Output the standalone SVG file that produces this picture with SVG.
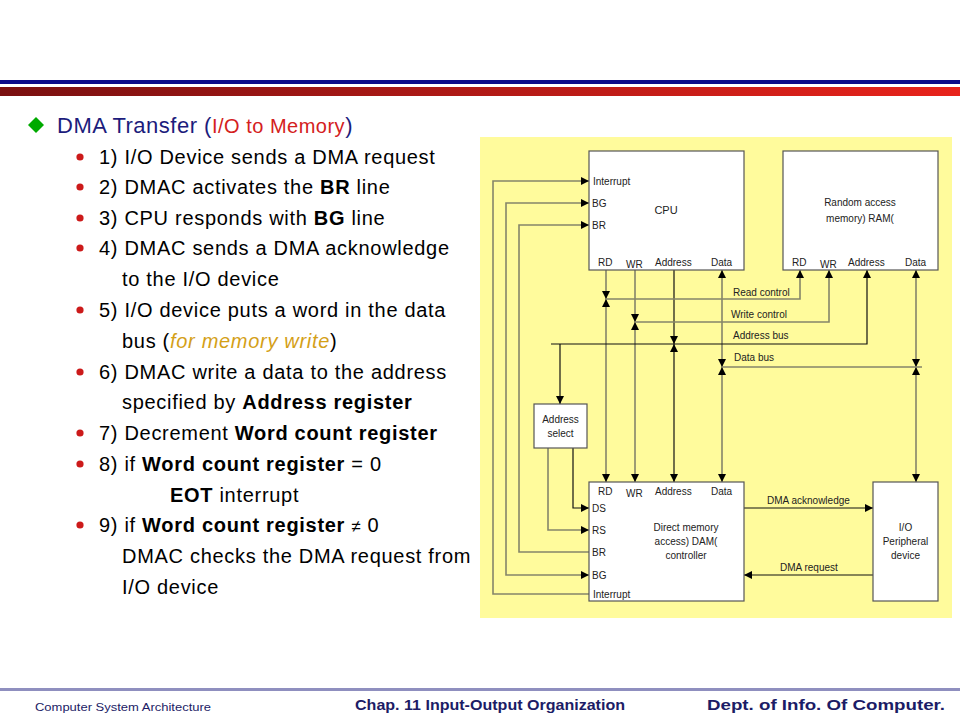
<svg xmlns="http://www.w3.org/2000/svg" width="960" height="720" viewBox="0 0 960 720">
<defs>
  <linearGradient id="redbar" x1="0" x2="1" y1="0" y2="0">
    <stop offset="0" stop-color="#7a1010"/>
    <stop offset="1" stop-color="#e8231b"/>
  </linearGradient>
  <marker id="ah" viewBox="0 0 10 10" refX="10" refY="5" markerWidth="8" markerHeight="8" markerUnits="userSpaceOnUse" orient="auto-start-reverse">
    <path d="M0,0 L10,5 L0,10 z" fill="#000"/>
  </marker>
</defs>
<style>
  .t{font-family:"Liberation Sans",Arial,sans-serif}
  .body{font-size:20px;fill:#000;letter-spacing:0.7px}
  .b{font-weight:bold}
  .lbl{font-size:10px;fill:#222}
  .box{fill:#fff;stroke:#555;stroke-width:1.2}
  .g{fill:none;stroke:#85856a;stroke-width:1.6}
  .k{fill:none;stroke:#111;stroke-width:1.2}
  .dot{fill:#cc1a1a}
  .foot{font-weight:bold;fill:#1c1c66;font-size:14px}
</style>

<rect width="960" height="720" fill="#fff"/>

<!-- header bars -->
<rect x="0" y="80" width="960" height="4" fill="#0c0c8a"/>
<rect x="0" y="87" width="960" height="9" fill="url(#redbar)"/>

<!-- title -->
<g id="title">
  <polygon points="36,117 44,125 36,133 28,125" fill="#00aa00"/>
  <text class="t" x="57" y="133" font-size="22" fill="#1c1c7c" letter-spacing="0.5">DMA Transfer (<tspan fill="#d42020" font-size="20">I/O to Memory</tspan>)</text>
</g>

<!-- bullet list -->
<g id="steps" class="t body">
  <circle class="dot" cx="80" cy="157" r="3.6"/>
  <text x="99" y="164">1) I/O Device sends a DMA request</text>
  <circle class="dot" cx="80" cy="187" r="3.6"/>
  <text x="99" y="194">2) DMAC activates the <tspan class="b">BR</tspan> line</text>
  <circle class="dot" cx="80" cy="218" r="3.6"/>
  <text x="99" y="225">3) CPU responds with <tspan class="b">BG</tspan> line</text>
  <circle class="dot" cx="80" cy="248" r="3.6"/>
  <text x="99" y="255">4) DMAC sends a DMA acknowledge</text>
  <text x="122" y="286">to the I/O device</text>
  <circle class="dot" cx="80" cy="310" r="3.6"/>
  <text x="99" y="317">5) I/O device puts a word in the data</text>
  <text x="122" y="348">bus (<tspan font-style="italic" fill="#d4a017">for memory write</tspan>)</text>
  <circle class="dot" cx="80" cy="372" r="3.6"/>
  <text x="99" y="379">6) DMAC write a data to the address</text>
  <text x="122" y="409">specified by <tspan class="b">Address register</tspan></text>
  <circle class="dot" cx="80" cy="433" r="3.6"/>
  <text x="99" y="440">7) Decrement <tspan class="b">Word count register</tspan></text>
  <circle class="dot" cx="80" cy="464" r="3.6"/>
  <text x="99" y="471">8) if <tspan class="b">Word count register</tspan> = 0</text>
  <text x="170" y="502"><tspan class="b">EOT</tspan> interrupt</text>
  <circle class="dot" cx="80" cy="525" r="3.6"/>
  <text x="99" y="532">9) if <tspan class="b">Word count register</tspan> <tspan font-size="17">≠</tspan> 0</text>
  <text x="122" y="563">DMAC checks the DMA request from</text>
  <text x="122" y="594">I/O device</text>
</g>

<!-- diagram background -->
<rect x="480" y="137" width="472" height="481" fill="#fffb9c"/>

<!-- connectors -->
<g id="connectors">
  <!-- CPU RD -->
  <path class="g" d="M606,270 V299" marker-end="url(#ah)"/>
  <path class="g" d="M606,299 V482" marker-start="url(#ah)" marker-end="url(#ah)"/>
  <!-- CPU WR -->
  <path class="g" d="M635,270 V322" marker-end="url(#ah)"/>
  <path class="g" d="M635,322 V482" marker-start="url(#ah)" marker-end="url(#ah)"/>
  <!-- CPU Address -->
  <path class="k" d="M674,270 V344" marker-end="url(#ah)"/>
  <path class="k" d="M674,344 V482" marker-start="url(#ah)" marker-end="url(#ah)"/>
  <!-- CPU Data -->
  <path class="g" d="M722,367 V270" marker-start="url(#ah)" marker-end="url(#ah)"/>
  <path class="g" d="M722,367 V482" marker-start="url(#ah)" marker-end="url(#ah)"/>
  <!-- RAM Data / IO -->
  <path class="g" d="M916,367 V270" marker-start="url(#ah)" marker-end="url(#ah)"/>
  <path class="g" d="M916,367 V482" marker-start="url(#ah)" marker-end="url(#ah)"/>
  <!-- buses -->
  <path class="g" d="M606,299 H800 V270" marker-end="url(#ah)"/>
  <path class="g" d="M635,322 H829 V270" marker-end="url(#ah)"/>
  <path class="k" d="M551,344 H867 V270" marker-end="url(#ah)"/>
  <path class="g" d="M722,367 H922"/>
  <!-- address select -->
  <path class="k" d="M560,344 V404" marker-end="url(#ah)"/>
  <path class="g" d="M548,448 V530 H589" marker-end="url(#ah)"/>
  <path class="k" d="M573,448 V508 H589" marker-end="url(#ah)"/>
  <!-- interrupt / BG / BR -->
  <path class="g" d="M589,594 H493 V181 H589" marker-end="url(#ah)"/>
  <path class="g" d="M589,203 H506 V575 H589" marker-start="url(#ah)" marker-end="url(#ah)"/>
  <path class="g" d="M589,552 H519 V225 H589" marker-end="url(#ah)"/>
  <!-- DMA ack / request -->
  <path class="k" d="M744,508 H873" marker-end="url(#ah)"/>
  <path class="k" d="M873,575 H744" marker-end="url(#ah)"/>
  <!-- bus labels -->
  <g class="t lbl">
    <text x="733" y="296">Read control</text>
    <text x="731" y="318">Write control</text>
    <text x="733" y="339">Address bus</text>
    <text x="734" y="361">Data bus</text>
    <text x="767" y="504">DMA acknowledge</text>
    <text x="780" y="571">DMA request</text>
  </g>
</g>

<!-- CPU -->
<g id="cpu" class="t lbl">
  <rect class="box" x="589" y="151" width="155" height="119"/>
  <text x="593" y="185">Interrupt</text>
  <text x="592" y="207">BG</text>
  <text x="592" y="229">BR</text>
  <text x="666" y="214" font-size="11" text-anchor="middle">CPU</text>
  <text x="598" y="266">RD</text>
  <text x="626" y="268">WR</text>
  <text x="655" y="266">Address</text>
  <text x="711" y="266">Data</text>
</g>

<!-- RAM -->
<g id="ram" class="t lbl">
  <rect class="box" x="783" y="151" width="155" height="119"/>
  <text x="860" y="206" text-anchor="middle">Random access</text>
  <text x="860" y="222" text-anchor="middle">memory) RAM(</text>
  <text x="792" y="266">RD</text>
  <text x="820" y="268">WR</text>
  <text x="848" y="266">Address</text>
  <text x="905" y="266">Data</text>
</g>

<!-- Address select -->
<g id="addrsel" class="t lbl">
  <rect class="box" x="534" y="404" width="53" height="44"/>
  <text x="560.5" y="423" text-anchor="middle">Address</text>
  <text x="560.5" y="437" text-anchor="middle">select</text>
</g>

<!-- DMA controller -->
<g id="dmac" class="t lbl">
  <rect class="box" x="589" y="482" width="155" height="119"/>
  <text x="598" y="495">RD</text>
  <text x="626" y="497">WR</text>
  <text x="655" y="495">Address</text>
  <text x="711" y="495">Data</text>
  <text x="592" y="512">DS</text>
  <text x="592" y="534">RS</text>
  <text x="592" y="556">BR</text>
  <text x="592" y="579">BG</text>
  <text x="593" y="598">Interrupt</text>
  <text x="686" y="531" text-anchor="middle">Direct memory</text>
  <text x="686" y="545" text-anchor="middle">access) DAM(</text>
  <text x="686" y="559" text-anchor="middle">controller</text>
</g>

<!-- I/O peripheral -->
<g id="io" class="t lbl">
  <rect class="box" x="873" y="482" width="65" height="119"/>
  <text x="905.5" y="531" text-anchor="middle">I/O</text>
  <text x="905.5" y="545" text-anchor="middle">Peripheral</text>
  <text x="905.5" y="559" text-anchor="middle">device</text>
</g>

<!-- footer -->
<rect x="0" y="688" width="960" height="3" fill="#8f8fbf"/>
<g id="footer" class="t">
  <text x="35" y="711" font-size="11" fill="#1c1c66" textLength="176" lengthAdjust="spacingAndGlyphs">Computer System Architecture</text>
  <text class="foot" x="355" y="710" textLength="270" lengthAdjust="spacingAndGlyphs">Chap. 11  Input-Output Organization</text>
  <text class="foot" x="707" y="710" textLength="238" lengthAdjust="spacingAndGlyphs">Dept. of  Info. Of  Computer.</text>
</g>
</svg>
